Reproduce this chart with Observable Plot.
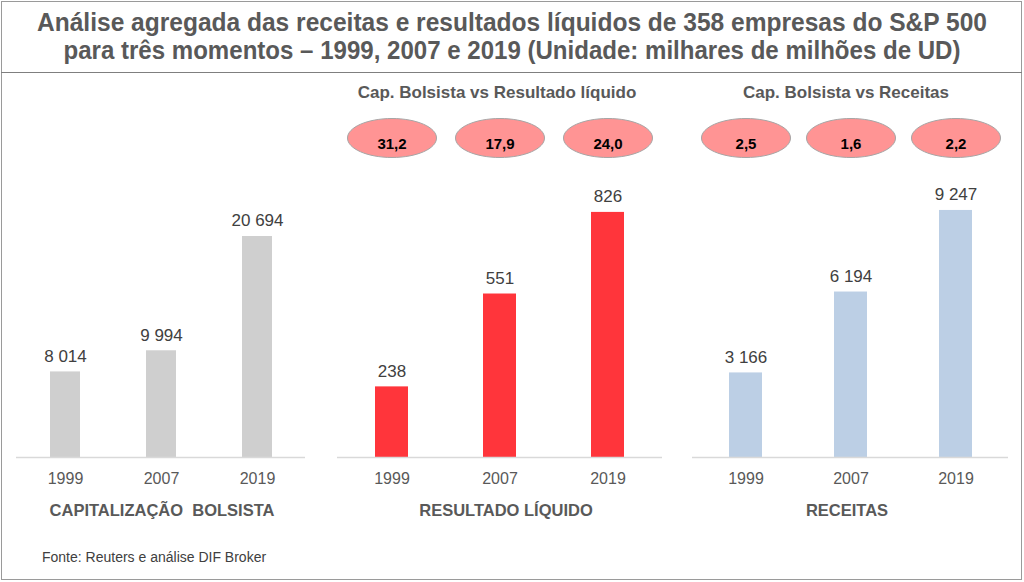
<!DOCTYPE html>
<html><head><meta charset="utf-8">
<script src="https://cdn.jsdelivr.net/npm/d3@7"></script>
<script src="https://cdn.jsdelivr.net/npm/@observablehq/plot@0.6"></script>
<style>
html,body{margin:0;padding:0;background:#fff;}
body{width:1024px;height:582px;position:relative;overflow:hidden;font-family:"Liberation Sans",Arial,sans-serif;}
#frame{position:absolute;left:1px;top:1px;width:1021px;height:579px;border:1.5px solid #9a9a9a;box-sizing:border-box;}
#titleline{position:absolute;left:1px;top:72px;width:1021px;height:0;border-top:1.5px solid #7f7f7f;}
.t{position:absolute;white-space:pre;line-height:1;transform:translate(-50%,-50%);}
.title{font-weight:bold;font-size:25px;color:#595959;left:512px;}
.sub{font-weight:bold;font-size:17px;color:#595959;}
.cat{font-weight:bold;font-size:16.5px;color:#595959;}
#fonte{position:absolute;left:42px;top:550px;font-size:14px;color:#404040;white-space:pre;line-height:1;}
.panel{position:absolute;top:75px;}
</style></head>
<body>
<div id="frame"></div>
<div id="titleline"></div>
<div id="root"></div>
<script>
const titleLines = ["Análise agregada das receitas e resultados líquidos de 358 empresas do S&P 500",
                    "para três momentos – 1999, 2007 e 2019 (Unidade: milhares de milhões de UD)"];
const years = ["1999", "2007", "2019"];
const capBolsista = [8014, 9994, 20694];
const resultadoLiquido = [238, 551, 826];
const receitas = [3166, 6194, 9247];
const ratioResultado = [31.2, 17.9, 24.0];
const ratioReceitas = [2.5, 1.6, 2.2];
const panelTitles = ["Cap. Bolsista vs Resultado líquido", "Cap. Bolsista vs Receitas"];
const categoryLabels = ["CAPITALIZAÇÃO  BOLSISTA", "RESULTADO LÍQUIDO", "RECEITAS"];
const fonte = "Fonte: Reuters e análise DIF Broker";

const locale = d3.formatLocale({decimal: ",", thousands: " ", grouping: [3], currency: ["", ""]});
const fmtInt = locale.format(",d");
const fmtDec = locale.format(".1f");

const root = document.getElementById("root");
function addText(cls, txt, cx, cy, target) {
  const d = document.createElement("div");
  d.className = "t " + cls;
  d.textContent = txt;
  d.style.left = cx + "px";
  d.style.top = cy + "px";
  root.appendChild(d);
  if (target) {
    const w = d.getBoundingClientRect().width;
    d.style.transform = `translate(-50%,-50%) scaleX(${target / w})`;
  }
  return d;
}
addText("title", titleLines[0], 512, 22, 950);
addText("title", titleLines[1], 512, 50, 897);
addText("sub", panelTitles[0], 497, 92);
addText("sub", panelTitles[1], 846, 92);
addText("cat", categoryLabels[0], 162, 510);
addText("cat", categoryLabels[1], 506, 510);
addText("cat", categoryLabels[2], 847, 510);
const f = document.createElement("div"); f.id = "fonte"; f.textContent = fonte; root.appendChild(f);

const ellipse = {
  draw(ctx) {
    const rx = 44.5, ry = 19.5, k = 0.5523;
    ctx.moveTo(rx, 0);
    ctx.bezierCurveTo(rx, ry * k, rx * k, ry, 0, ry);
    ctx.bezierCurveTo(-rx * k, ry, -rx, ry * k, -rx, 0);
    ctx.bezierCurveTo(-rx, -ry * k, -rx * k, -ry, 0, -ry);
    ctx.bezierCurveTo(rx * k, -ry, rx, -ry * k, rx, 0);
    ctx.closePath();
  }
};

function panel({values, ratios, color, yMax, left, width}) {
  const data = years.map((y, i) => ({year: y, value: values[i], ratio: ratios ? ratios[i] : null}));
  const marks = [
    Plot.barY(data, {x: "year", y: "value", fill: color}),
    Plot.ruleY([0], {stroke: "#d9d9d9", strokeWidth: 1.3}),
    Plot.text(data, {x: "year", y: "value", text: d => fmtInt(d.value), dy: -15.5, fontSize: 17, fill: "#404040"})
  ];
  if (ratios) {
    marks.push(
      Plot.dot(data, {x: "year", frameAnchor: "top", dy: 42.5, symbol: ellipse, fill: "#ff9494", stroke: "#a6a6a6", strokeWidth: 1}),
      Plot.text(data, {x: "year", frameAnchor: "top", dy: 42.5, text: d => fmtDec(d.ratio), fontSize: 15, fontWeight: "bold", fill: "#000"})
    );
  }
  const svg = Plot.plot({
    width, height: 425,
    marginLeft: 10, marginRight: 10, marginTop: 20, marginBottom: 43,
    style: {fontSize: "16px", color: "#595959", fontFamily: "'Liberation Sans', Arial, sans-serif", background: "transparent", overflow: "visible"},
    x: {domain: years, paddingInner: 0.69, paddingOuter: 0.34, tickSize: 0, tickPadding: 15, label: null},
    y: {domain: [0, yMax], axis: null},
    marks
  });
  svg.classList.add("panel");
  svg.style.left = left + "px";
  root.appendChild(svg);
}

panel({values: capBolsista, color: "#cfcfcf", yMax: 33900, left: 6, width: 309});
panel({values: resultadoLiquido, ratios: ratioResultado, color: "#ff353b", yMax: 1220, left: 327, width: 345});
panel({values: receitas, ratios: ratioReceitas, color: "#bccfe5", yMax: 13550, left: 682, width: 336});
</script>
</body></html>
